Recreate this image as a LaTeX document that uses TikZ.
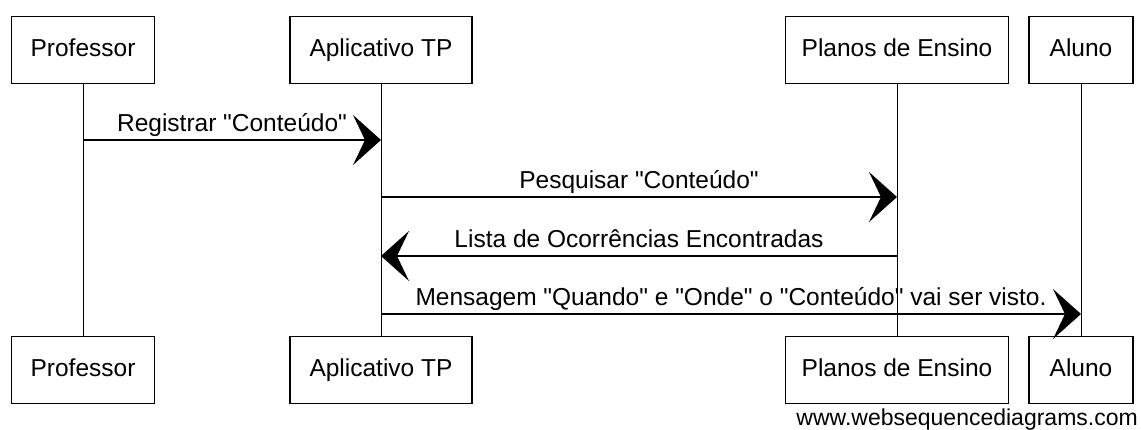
\documentclass[tikz,border=0pt]{standalone}
\usepackage{fontspec}
\setmainfont{Liberation Sans}
\usepackage{tikz}
\usetikzlibrary{arrows.meta}
\newcommand{\dq}{\textquotedbl}

\begin{document}
\begin{tikzpicture}[x=1pt, y=-1pt,
    actor/.style={draw, line width=1.2pt, fill=white, minimum height=67pt,
        inner sep=0pt, text height=17.5pt, text depth=5pt,
        font=\fontsize{24.5}{28}\selectfont},
    lifeline/.style={line width=1pt},
    msg/.style={line width=1.4pt, -{Stealth[length=28pt, width=50pt, inset=12pt]}},
    msglabel/.style={above, inner sep=3pt, text height=17.5pt, text depth=5pt,
        font=\fontsize{24.5}{28}\selectfont}]
    \useasboundingbox (0,0) rectangle (1141,430);

    % participants, top row
    \node[actor, minimum width=143pt] (profT) at (83,50) {Professor};
    \node[actor, minimum width=182pt] (appT) at (381,50) {Aplicativo TP};
    \node[actor, minimum width=223pt] (planT) at (897,50) {Planos de Ensino};
    \node[actor, minimum width=104pt] (alunoT) at (1081,50) {Aluno};

    % participants, bottom row
    \node[actor, minimum width=143pt] (profB) at (83,370) {Professor};
    \node[actor, minimum width=182pt] (appB) at (381,370) {Aplicativo TP};
    \node[actor, minimum width=223pt] (planB) at (897,370) {Planos de Ensino};
    \node[actor, minimum width=104pt] (alunoB) at (1081,370) {Aluno};

    % lifelines
    \draw[lifeline] (profT) -- (profB);
    \draw[lifeline] (appT) -- (appB);
    \draw[lifeline] (planT) -- (planB);
    \draw[lifeline] (alunoT) -- (alunoB);

    % messages
    \draw[msg] (profT |- 0,140) -- node[msglabel] {Registrar \dq Conteúdo\dq} (appT |- 0,140);
    \draw[msg] (appT |- 0,197) -- node[msglabel] {Pesquisar \dq Conteúdo\dq} (planT |- 0,197);
    \draw[msg] (planT |- 0,256) -- node[msglabel] {Lista de Ocorrências Encontradas} (appT |- 0,256);
    \draw[msg] (appT |- 0,314) -- node[msglabel] {Mensagem \dq Quando\dq{} e \dq Onde\dq{} o \dq Conteúdo\dq{} vai ser visto.} (alunoT |- 0,314);

    \node[anchor=east, inner sep=0pt, font=\fontsize{23}{26}\selectfont] (site) at (1138,420) {www.websequencediagrams.com};
\end{tikzpicture}
\end{document}
